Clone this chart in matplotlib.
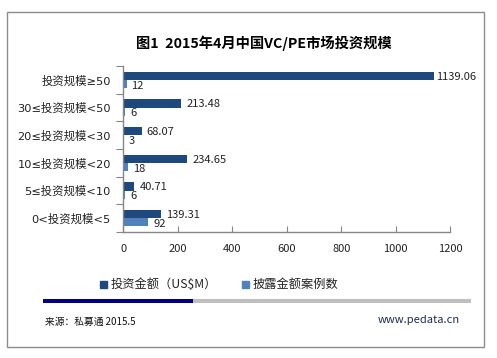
import matplotlib
matplotlib.use("Agg")
import matplotlib.pyplot as plt
from matplotlib.patches import Rectangle
from matplotlib.lines import Line2D
import numpy as np

plt.rcParams['font.family'] = ['Noto Sans CJK SC', 'DejaVu Sans']

categories = ["投资规模≥50", "30≤投资规模<50", "20≤投资规模<30",
              "10≤投资规模<20", "5≤投资规模<10", "0<投资规模<5"]
amount = [1139.06, 213.48, 68.07, 234.65, 40.71, 139.31]
cases = [12, 6, 3, 18, 6, 92]
amount_labels = ["1139.06", "213.48", "68.07", "234.65", "40.71", "139.31"]
case_labels = ["12", "6", "3", "18", "6", "92"]
series_names = ["投资金额（US$M）", "披露金额案例数"]
xticks = [0, 200, 400, 600, 800, 1000, 1200]
title = "图1  2015年4月中国VC/PE市场投资规模"
source = "来源：私募通 2015.5"
website = "www.pedata.cn"

C_DARK = "#1F497D"
C_LIGHT = "#4F81BD"
GRAY = "#868686"

W, H = 497, 358
fig = plt.figure(figsize=(W / 100, H / 100), dpi=100)
fig.patch.set_facecolor("white")

def fx(px):
    return px / W

def fy(py):
    return 1 - py / H

x0, x1 = 123.3, 450.3
ytop, ybot = 66, 232
ax = fig.add_axes([fx(x0), fy(ybot), (x1 - x0) / W, (ybot - ytop) / H])

n = len(categories)
y = np.arange(n)
h = 0.29
ax.barh(y - h / 2, amount, height=h, color=C_DARK, zorder=2)
ax.barh(y + h / 2, cases, height=h, color=C_LIGHT, zorder=2)
ax.set_xlim(0, 1200)
ax.set_ylim(n - 0.5, -0.5)

for i in range(n):
    off = 2 if amount[i] > 1000 else 5
    ax.annotate(amount_labels[i], (amount[i], y[i] - h / 2 + 0.03), xytext=(off, 0),
                textcoords="offset pixels", va="center", ha="left",
                fontsize=8, color="#222222")
    ax.annotate(case_labels[i], (cases[i], y[i] + h / 2 + 0.07), xytext=(5, 0),
                textcoords="offset pixels", va="center", ha="left",
                fontsize=8, color="#222222")

for s in ["top", "right"]:
    ax.spines[s].set_visible(False)
for s in ["left", "bottom"]:
    ax.spines[s].set_color(GRAY)
    ax.spines[s].set_linewidth(1)

ax.set_xticks(xticks)
ax.set_xticklabels([str(v) for v in xticks], fontsize=8, color="#222222")
ax.tick_params(axis="x", direction="in", length=4, color=GRAY, pad=9)

ax.set_yticks(np.arange(-0.5, n, 1.0))
ax.set_yticklabels([])
ax.tick_params(axis="y", which="major", direction="out", length=5, color=GRAY)
ax.set_yticks(y, minor=True)
ax.set_yticklabels(categories, minor=True, fontsize=8.2, color="#222222",
                   family=['DejaVu Sans', 'Noto Sans CJK SC'])
ax.tick_params(axis="y", which="minor", length=0, pad=9)

# title
fig.text(fx(264), fy(43), title, ha="center", va="center",
         fontsize=10.3, fontweight="bold", color="#000000")

# legend
for xs, name, col in [(100, series_names[0], C_DARK), (242, series_names[1], C_LIGHT)]:
    fig.patches.append(Rectangle((fx(xs), fy(288)), 7 / W, 7 / H,
                                 transform=fig.transFigure, color=col))
    fig.text(fx(xs + 11), fy(284.5), name, ha="left", va="center",
             fontsize=8.8, color="#222222")

# divider line
fig.add_artist(Line2D([fx(43), fx(193)], [fy(301), fy(301)], color="#000080",
                      lw=2.9, transform=fig.transFigure, solid_capstyle="butt"))
fig.add_artist(Line2D([fx(193), fx(471)], [fy(301), fy(301)], color="#BFBFBF",
                      lw=2.9, transform=fig.transFigure, solid_capstyle="butt"))

fig.text(fx(45), fy(322), source, ha="left", va="center", fontsize=7, color="#111111")
fig.text(fx(460), fy(320), website, ha="right", va="center", fontsize=8, color="#1F2A4F")

# outer frame
fig.patches.append(Rectangle((fx(6.5), fy(347)), (484 - 6.5) / W, (347 - 11.5) / H,
                             transform=fig.transFigure, fill=False,
                             edgecolor="#8C8C8C", lw=1))

fig.savefig("out.png", dpi=100)
